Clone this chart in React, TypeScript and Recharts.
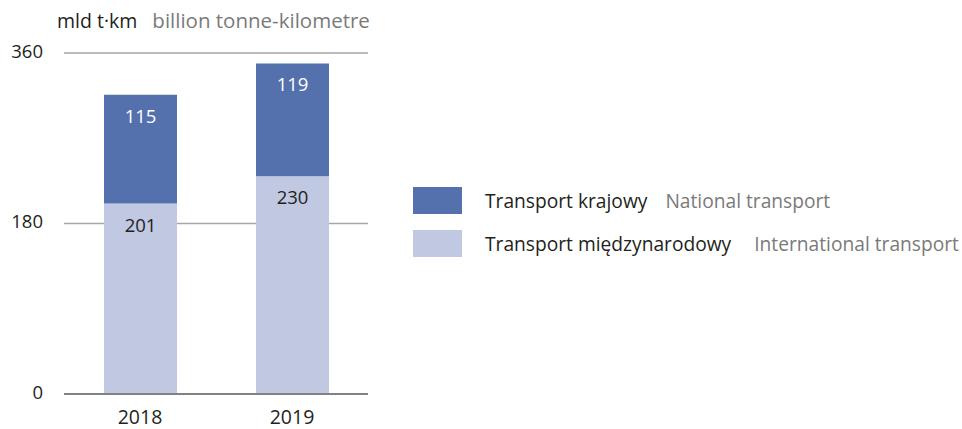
import { BarChart, Bar, XAxis, YAxis, CartesianGrid, LabelList } from "recharts";

const years = ["2018", "2019"];
const international = [201, 230];
const national = [115, 119];
const yTicks = [0, 180, 360];

const seriesNames = [
  { key: "national", pl: "Transport krajowy", en: "National transport", color: "#5571ad" },
  { key: "international", pl: "Transport międzynarodowy", en: "International transport", color: "#c0c8e2" },
];

const FONT = "'Open Sans', 'Noto Sans', sans-serif";

const data = years.map((year, i) => ({
  year,
  international: international[i],
  national: national[i],
}));

const valueLabel = (fill: string) => (props: any) => {
  const { x, y, width, value } = props;
  return (
    <text
      x={x + width / 2}
      y={y + 23}
      textAnchor="middle"
      dominantBaseline="middle"
      fontSize={18.5}
      fontFamily={FONT}
      fill={fill}
    >
      {value}
    </text>
  );
};

const YTick = (props: any) => {
  const { y, payload } = props;
  return (
    <text x={43} y={y} textAnchor="end" dominantBaseline="middle" fontSize={18.5} fontFamily={FONT} fill="#231f20">
      {payload.value}
    </text>
  );
};

const XTick = (props: any) => {
  const { x, payload } = props;
  return (
    <text x={x} y={424} textAnchor="middle" fontSize={19.5} fontFamily={FONT} fill="#231f20">
      {payload.value}
    </text>
  );
};

export default function App() {
  return (
    <div style={{ position: "absolute", left: 0, top: 0, width: 962, height: 429, background: "#fff", fontFamily: FONT }}>
      <div style={{ position: "absolute", left: 57, top: 8, fontSize: 19.5, lineHeight: "24px", whiteSpace: "nowrap" }}>
        <span style={{ color: "#231f20" }}>mld t·km</span>
        <span style={{ color: "#7a7a7a", marginLeft: 15, fontSize: 20.5 }}>billion tonne-kilometre</span>
      </div>

      <BarChart
        width={962}
        height={429}
        data={data}
        margin={{ top: 53, right: 594, left: 0, bottom: 0 }}
        barSize={73}
      >
        <CartesianGrid horizontal vertical={false} stroke="#a6a6a6" strokeWidth={1.5} />
        <XAxis
          dataKey="year"
          height={35}
          axisLine={{ stroke: "#6e6e6e", strokeWidth: 1.5 }}
          tickLine={false}
          tick={<XTick />}
          interval={0}
        />
        <YAxis
          width={64}
          domain={[0, 360]}
          ticks={yTicks}
          axisLine={false}
          tickLine={false}
          tick={<YTick />}
        />
        <Bar dataKey="international" stackId="a" fill={seriesNames[1].color} isAnimationActive={false}>
          <LabelList dataKey="international" content={valueLabel("#231f20")} />
        </Bar>
        <Bar dataKey="national" stackId="a" fill={seriesNames[0].color} isAnimationActive={false}>
          <LabelList dataKey="national" content={valueLabel("#ffffff")} />
        </Bar>
      </BarChart>

      <div style={{ position: "absolute", left: 413, top: 187 }}>
        {seriesNames.map((s, i) => (
          <div key={s.key} style={{ display: "flex", alignItems: "center", height: 27, marginBottom: i === 0 ? 16 : 0 }}>
            <div style={{ width: 49, height: 27, background: s.color }} />
            <span style={{ marginLeft: 23, fontSize: 19.2, color: "#231f20", whiteSpace: "nowrap" }}>{s.pl}</span>
            <span style={{ marginLeft: i === 0 ? 18 : 23, fontSize: 19.2, color: "#7a7a7a", whiteSpace: "nowrap" }}>{s.en}</span>
          </div>
        ))}
      </div>
    </div>
  );
}
